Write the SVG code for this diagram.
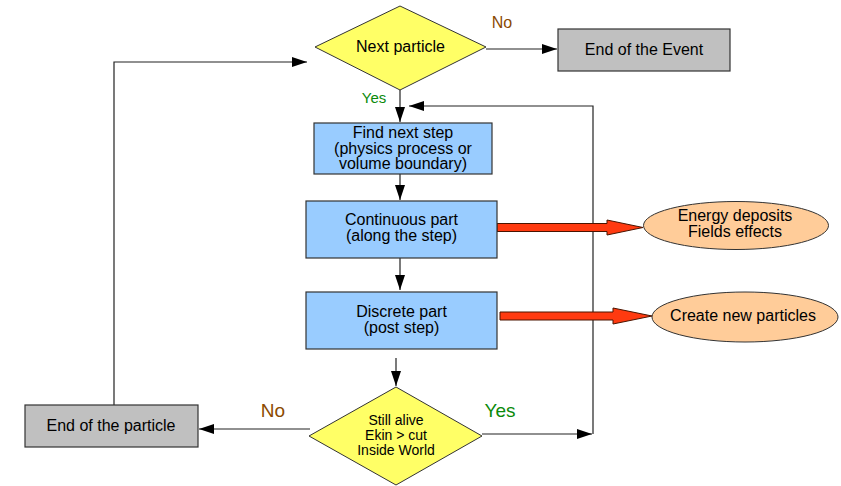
<svg xmlns="http://www.w3.org/2000/svg" width="841" height="486" viewBox="0 0 841 486">
<defs>
<style>
text{font-family:"Liberation Sans",Arial,sans-serif;font-size:16px;fill:#000;text-anchor:middle}
.box{stroke:#333;stroke-width:1.2}
.blue{fill:#99ccff}
.gray{fill:#c0c0c0}
.dia{fill:#ffff66;stroke:#333;stroke-width:1}
.ell{fill:#ffcc99;stroke:#333;stroke-width:1}
.ln{fill:none;stroke:#222;stroke-width:1.2}
.red{fill:#ff3a10;stroke:#4a1400;stroke-width:1}
.no{fill:#8b4a00}
.yes{fill:#0a8a0a}
.sm{font-size:14px}
</style>
<marker id="ah" markerUnits="userSpaceOnUse" markerWidth="16" markerHeight="12" refX="15" refY="5" orient="auto">
<path d="M0,0 L15,5 L0,10 Z" fill="#000"/>
</marker>
</defs>
<rect width="841" height="486" fill="#fff"/>

<g id="connectors">
<path class="ln" d="M486,49 H557" marker-end="url(#ah)"/>
<path class="ln" d="M400,90 V122" marker-end="url(#ah)"/>
<path class="ln" d="M400,174 V200" marker-end="url(#ah)"/>
<path class="ln" d="M400,258 V290" marker-end="url(#ah)"/>
<path class="ln" d="M396,358 V386" marker-end="url(#ah)"/>
<path class="ln" d="M310,429 H199" marker-end="url(#ah)"/>
<path class="ln" d="M482,434 H592" marker-end="url(#ah)"/>
<path class="ln" d="M593,434 V106 H409" marker-end="url(#ah)"/>
<path class="ln" d="M114,405 V62 H307" marker-end="url(#ah)"/>
<polygon class="red" points="497,223.5 607,223.5 607,220 643,227.5 607,235 607,231.5 497,231.5"/>
<polygon class="red" points="500,312 613,312 613,308 652,316 613,324 613,320 500,320"/>
<text class="no" x="502" y="28" style="font-size:16px">No</text>
<text class="yes" x="374" y="103" style="font-size:15px">Yes</text>
<text class="no" x="273" y="417" style="font-size:19px">No</text>
<text class="yes" x="500" y="417" style="font-size:19px">Yes</text>
</g>

<g id="next-particle">
<polygon class="dia" points="315,47 400,6 486,47 400,90"/>
<text x="400.5" y="52">Next particle</text>
</g>

<g id="end-event">
<rect class="box gray" x="558" y="29" width="172" height="42"/>
<text x="644" y="55">End of the Event</text>
</g>

<g id="find-next-step">
<rect class="box blue" x="314" y="123" width="178" height="51"/>
<text x="403" y="138">Find next step</text>
<text x="403" y="153.5">(physics process or</text>
<text x="403" y="169">volume boundary)</text>
</g>

<g id="continuous-part">
<rect class="box blue" x="306" y="201" width="191" height="57"/>
<text x="401.5" y="224.5">Continuous part</text>
<text x="401.5" y="240.5">(along the step)</text>
</g>

<g id="discrete-part">
<rect class="box blue" x="306" y="292" width="191" height="57"/>
<text x="401.5" y="317">Discrete part</text>
<text x="401.5" y="333">(post step)</text>
</g>

<g id="energy-deposits">
<ellipse class="ell" cx="736" cy="225.5" rx="92.5" ry="24"/>
<text x="735" y="221">Energy deposits</text>
<text x="735" y="237">Fields effects</text>
</g>

<g id="create-new-particles">
<ellipse class="ell" cx="745" cy="317" rx="93" ry="25"/>
<text x="743" y="321">Create new particles</text>
</g>

<g id="still-alive">
<polygon class="dia" points="309,436 396,387 482,436 396,485"/>
<text class="sm" x="396" y="425">Still alive</text>
<text class="sm" x="396" y="440">Ekin &gt; cut</text>
<text class="sm" x="396" y="455">Inside World</text>
</g>

<g id="end-particle">
<rect class="box gray" x="25" y="405" width="173" height="42"/>
<text x="111" y="431">End of the particle</text>
</g>
</svg>
